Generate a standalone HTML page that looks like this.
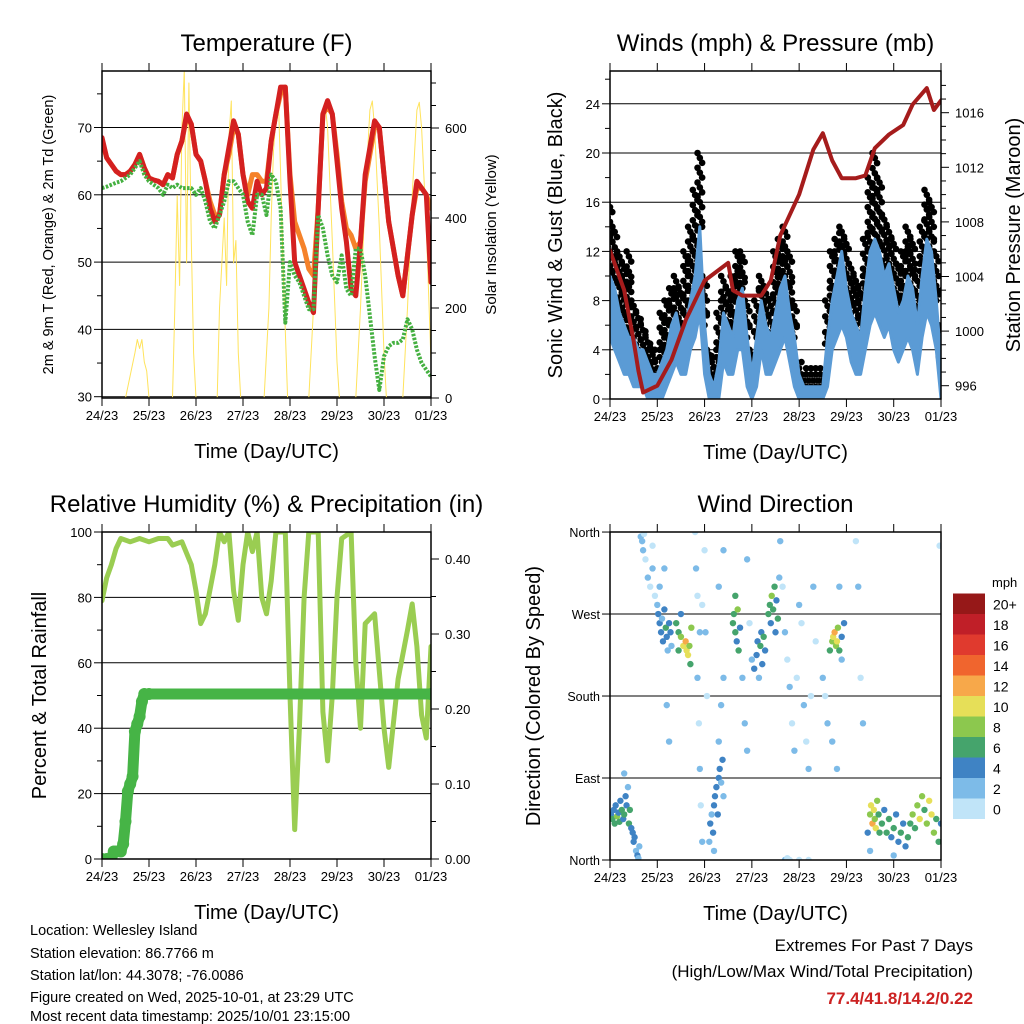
<!DOCTYPE html>
<html><head><meta charset="utf-8">
<style>
body{margin:0;background:#fff;}
svg{display:block;font-family:"Liberation Sans",sans-serif;}
</style></head>
<body>
<svg id="chart" width="1024" height="1024" viewBox="0 0 1024 1024" xmlns="http://www.w3.org/2000/svg">
<rect width="1024" height="1024" fill="#fff"/>
<g id="g"></g>
<g font-size="14.5" fill="#000">
<text x="30" y="935">Location: Wellesley Island</text>
<text x="30" y="958">Station elevation: 86.7766 m</text>
<text x="30" y="980">Station lat/lon: 44.3078; -76.0086</text>
<text x="30" y="1002">Figure created on Wed, 2025-10-01, at 23:29 UTC</text>
<text x="30" y="1024" dy="-3">Most recent data timestamp: 2025/10/01 23:15:00</text>
</g>
<g text-anchor="end" font-size="17">
<text x="973" y="951">Extremes For Past 7 Days</text>
<text x="973" y="977">(High/Low/Max Wind/Total Precipitation)</text>
<text x="973" y="1004" fill="#cc2222" font-weight="bold">77.4/41.8/14.2/0.22</text>
</g>
</svg>
<script>
// ---------- data ----------
const dayLabels=["24/23","25/23","26/23","27/23","28/23","29/23","30/23","01/23"];
const temp2m=[68.5,65.5,64.5,63.5,63,63,63.5,64.5,66,64,62.5,62.2,62,61.5,63,62.5,66,68,72,70.5,66,65,62,58,56,57,63,67,71,69,63,59,58,62,60,61,68,72,76,76,62,50,48,46,44,42.5,58,72,74,72,65,58,53,46,45,53,63,67,71,70,63,56,52,48,45,51,57,62,61,60,47];
const temp9m=[68,65.5,64.5,63.5,63,63,63.5,64.5,66,64,62.5,62.2,62,61.5,63,62.5,66,68,71.5,70.5,66,65,62,59,57,57,63,66,70,69,63,60,63,63,62,62,68,72,75,76,63,56,54,52,49,48,58,72,73,72,66,59,55,54,52,53,62,66,70,70,63,56,52,48,45,51,57,61,61,60,58];
const dewpoint=[61,61.2,61.5,61.8,62,62.5,63,64,65,63,62,61.5,61,60,61.5,61,61.5,61,61,61,60,61,59,56,55,57,59,62,62,61,60,56,54,60,60,57,63,62,58,41,50,48,47,45,43,43,57,55,51,48,47,51,46,45,52,52,48,42,36,31,36,37.5,38,38,38.5,41.5,40,37,35,34,33];
const solarDays=[0,0.5,0.6,0.7,0.75,0.8,0.85,0.9,0.95,1.0,1.5,1.55,1.6,1.65,1.7,1.75,1.8,1.85,1.9,1.95,2.0,2.45,2.5,2.6,2.65,2.7,2.75,2.8,2.85,2.9,2.95,3.45,3.55,3.6,3.65,3.7,3.75,3.8,3.85,3.95,4.4,4.5,4.6,4.7,4.75,4.8,4.9,5.0,5.05,5.4,5.5,5.6,5.7,5.75,5.8,5.9,6.0,6.05,6.4,6.5,6.6,6.7,6.75,6.8,6.9,7.0];
const solarVals=[0,0,50,100,130,110,130,80,60,0,0,200,450,250,600,730,300,700,350,100,0,0,200,400,250,580,660,300,350,100,0,0,200,400,550,620,670,500,300,0,0,200,450,620,650,600,350,80,0,0,200,450,640,660,600,380,100,0,0,200,450,640,657,600,380,80];
const windHi=[10,9,7,6,5,5,4,4,3,2,2,3,4,6,7,5,6,8,10,14,6,2,1,3,7,6,5,8,9,5,2,5,8,6,5,7,9,10,7,5,2,1,1,1,1,1,5,8,10,12,9,7,6,5,9,12,13,12,10,11,9,7,8,10,9,6,10,13,12,8,3];
const windLo=[5,4,3,2,2,1,1,1,0,0,0,0,1,2,3,2,2,4,5,7,2,0,0,0,3,2,2,4,4,1,0,1,4,2,2,3,4,5,3,1,0,0,0,0,0,0,1,4,5,6,5,3,2,2,4,6,7,6,5,6,4,3,4,5,4,2,5,7,6,4,0];
const gustHi=[16,14,12,11,12,8,7,6,5,4,3,7,8,9,10,9,12,14,17,20,10,4,3,7,10,9,10,12,12,8,4,8,10,9,8,12,13,14,12,8,3,2,2,2,2,2,8,12,13,14,13,11,10,9,13,18,20,18,15,14,13,11,12,14,13,10,14,17,16,12,6];
const pressDays=[0,0.3,0.5,0.6,0.7,1.0,1.3,1.6,2.0,2.5,2.6,2.8,3.2,3.4,3.6,4.0,4.3,4.5,4.7,4.9,5.2,5.4,5.6,5.9,6.2,6.4,6.7,6.85,7.0];
const pressVals=[1005.9,1003,999.3,997.1,995.5,996,997.9,1000.8,1003.7,1005,1003,1002.6,1002.6,1003.7,1007,1010,1013.3,1014.5,1012.5,1011.2,1011.2,1011.4,1013.4,1014.4,1015.1,1016.6,1017.8,1016.2,1016.9];
const rhDays=[0,0.1,0.2,0.3,0.4,0.6,0.8,1.0,1.2,1.4,1.5,1.7,1.9,2.0,2.1,2.2,2.4,2.5,2.6,2.7,2.8,2.9,3.0,3.1,3.2,3.3,3.4,3.5,3.6,3.7,3.8,3.9,4.0,4.1,4.2,4.3,4.4,4.6,4.7,4.8,4.9,5.0,5.1,5.3,5.4,5.5,5.6,5.8,6.0,6.1,6.3,6.5,6.6,6.7,6.8,6.9,7.0];
const rhVals=[79,86,90,95,98,97,98,97,98,98,96,97,90,82,72,75,90,100,97,100,82,73,90,100,94,100,80,75,85,100,100,100,50,9,40,80,100,100,45,30,50,80,98,100,60,40,72,75,40,28,55,70,78,65,44,37,65];
const rainDays=[0,0.1,0.2,0.25,0.3,0.4,0.45,0.5,0.55,0.6,0.65,0.7,0.75,0.8,0.85,0.9,1.0,2,3,4,5,6,7];
const rainVals=[0,0,0,0.01,0.01,0.01,0.02,0.05,0.09,0.1,0.11,0.17,0.18,0.19,0.21,0.22,0.22,0.22,0.22,0.22,0.22,0.22,0.22];
const dirDays=[0.02,0.05,0.08,0.1,0.12,0.15,0.18,0.2,0.22,0.25,0.28,0.3,0.33,0.35,0.38,0.4,0.42,0.45,0.48,0.5,0.52,0.55,0.58,0.6,0.62,0.3,0.65,0.68,0.7,0.72,0.75,0.8,0.85,0.9,0.95,0.9,1.0,1.02,1.05,1.08,1.1,1.12,1.15,1.18,1.2,1.22,1.25,1.28,1.3,1.05,1.15,1.2,1.25,1.4,1.45,1.5,1.55,1.6,1.62,1.65,1.68,1.7,1.72,1.5,1.45,1.8,1.82,1.85,1.85,1.88,1.9,1.92,1.95,2.0,2.02,1.9,1.95,2.05,2.1,2.12,2.15,2.18,2.2,2.22,2.25,2.28,2.3,2.32,2.35,2.38,2.4,2.2,2.3,2.35,2.4,2.4,2.3,2.6,2.62,2.65,2.68,2.7,2.72,2.75,2.65,2.8,2.85,2.9,2.9,2.95,3.0,3.05,3.1,3.12,3.15,3.18,3.2,3.22,3.25,3.28,3.35,3.38,3.4,3.42,3.45,3.48,3.5,3.52,3.55,3.58,3.6,3.65,3.7,3.75,3.8,3.85,3.9,3.95,4.0,4.05,4.1,4.15,4.2,4.25,4.3,4.35,3.7,3.75,3.8,4.0,4.2,4.5,4.55,4.6,4.65,4.7,4.72,4.75,4.78,4.8,4.82,4.85,4.9,4.95,4.9,4.7,4.8,4.85,5.2,5.25,5.3,5.35,5.45,5.5,5.52,5.55,5.58,5.6,5.62,5.65,5.68,5.7,5.75,5.8,5.85,5.9,5.95,6.0,6.05,6.1,6.15,6.2,6.25,6.3,6.35,6.4,6.45,6.5,6.55,6.6,6.65,6.7,6.75,6.8,6.85,6.9,6.95,7.0,5.5,6.0,6.97];
const dirDeg=[50,45,55,40,60,48,52,42,65,55,45,50,70,60,80,40,55,35,30,20,25,10,5,2,15,95,355,350,340,358,330,310,300,320,290,345,280,270,260,250,265,240,275,255,245,230,260,250,235,300,320,170,130,260,250,245,235,240,230,225,235,215,255,270,230,360,320,290,200,150,100,60,20,340,250,250,280,180,20,40,50,30,60,70,80,50,90,100,85,110,70,10,130,170,200,340,300,260,270,250,240,275,230,255,290,200,150,120,330,260,220,210,225,240,200,235,250,215,245,230,270,280,260,290,275,300,250,285,265,310,350,300,250,220,190,150,120,200,280,260,170,130,100,180,300,240,0,2,0,0,0,200,180,150,230,240,245,250,235,240,255,230,245,260,220,130,100,300,350,300,200,150,30,50,60,40,55,45,35,65,50,30,40,55,30,45,25,35,50,20,30,40,15,25,40,50,35,60,45,70,55,40,65,50,30,45,20,40,10,5,345];
const dirSpd=[5,6,4,7,5,8,4,6,5,7,4,6,5,4,3,7,6,5,4,5,4,3,4,3,2,3,2,3,2,1,1,2,1,2,1,1,3,4,5,4,3,5,4,6,4,3,5,4,3,2,2,2,2,6,7,8,10,12,11,10,8,6,9,5,6,1,2,1,2,1,2,1,2,1,2,2,1,1,3,4,3,4,5,4,5,4,4,5,3,4,3,3,2,2,2,2,2,6,7,6,5,8,6,4,7,2,2,2,2,1,3,4,5,4,3,6,5,4,6,5,6,7,5,8,6,7,5,4,6,3,2,1,2,1,2,1,2,1,2,1,2,1,2,1,2,1,3,1,1,1,1,2,1,2,6,8,10,12,9,11,8,6,5,4,3,2,2,2,1,2,1,2,4,8,10,12,11,9,10,8,7,6,7,5,6,7,5,6,4,5,6,4,5,6,7,8,6,9,10,8,7,9,11,10,8,7,6,4,3,3,1];
const speedColors=["#c0e4f8","#7dbbe8","#3f83c4","#45a46c","#8cc84e","#e6df58","#f7a84a","#f0652e","#e03a2e","#c01f28","#961818"];
const speedLabels=["0","2","4","6","8","10","12","14","16","18","20+"];

// ---------- helpers ----------
const NS="http://www.w3.org/2000/svg";
const root=document.getElementById('g');
function mk(tag,attrs,parent,txt){const e=document.createElementNS(NS,tag);for(const k in attrs)e.setAttribute(k,attrs[k]);if(txt!==undefined)e.textContent=txt;(parent||root).appendChild(e);return e;}
function grp(name){const e=mk('g',{});


return e;}

function panel(o){
  const pg=grp(o.name);
  const xs=d=>o.x0+(o.x1-o.x0)*d/7;
  o.grid.forEach(v=>{const y=o.yL(v);const l=mk('line',{x1:o.x0,x2:o.x1,y1:y,y2:y,stroke:'#000','stroke-width':1},pg);
    
    });
  const f=mk('rect',{x:o.x0,y:o.y0,width:o.x1-o.x0,height:o.y1-o.y0,fill:'none',stroke:'#000','stroke-width':1.5},pg);
  
  
  const xg=grp('x-axis');pg.appendChild(xg);
  for(let i=0;i<8;i++){const x=xs(i);
    mk('line',{x1:x,x2:x,y1:o.y1,y2:o.y1+8,stroke:'#000'},xg);
    mk('line',{x1:x,x2:x,y1:o.y0,y2:o.y0-8,stroke:'#000'},xg);
    const t=mk('text',{x:x,y:o.y1+22,'text-anchor':'middle','font-size':13},xg,dayLabels[i]);
    
    }
  const xt=mk('text',{x:(o.x0+o.x1)/2,y:o.y1+60,'text-anchor':'middle','font-size':20},pg,'Time (Day/UTC)');
  
  
  const tt=mk('text',{x:(o.x0+o.x1)/2,y:o.y0-20,'text-anchor':'middle','font-size':24},pg,o.title);
  
  
  const lg=grp('left-y-axis');pg.appendChild(lg);
  o.lTicks.forEach((v,i)=>{const y=o.yL(v);mk('line',{x1:o.x0-8,x2:o.x0,y1:y,y2:y,stroke:'#000'},lg);
    const t=mk('text',{x:o.x0-10,y:y+5,'text-anchor':'end','font-size':o.lfs||13},lg,o.lLab[i]);
    
    });
  (o.lMinor||[]).forEach(v=>{const y=o.yL(v);mk('line',{x1:o.x0-5,x2:o.x0,y1:y,y2:y,stroke:'#000'},lg);});
  if(o.rTicks){const rg=grp('right-y-axis');pg.appendChild(rg);
    o.rTicks.forEach((v,i)=>{const y=o.yR(v);mk('line',{x1:o.x1,x2:o.x1+8,y1:y,y2:y,stroke:'#000'},rg);
      const t=mk('text',{x:o.x1+14,y:y+5,'font-size':13},rg,o.rLab[i]);
      
      });
    (o.rMinor||[]).forEach(v=>{const y=o.yR(v);mk('line',{x1:o.x1,x2:o.x1+5,y1:y,y2:y,stroke:'#000'},rg);});}
  const lt=mk('text',{transform:`translate(${o.lTx},${(o.y0+o.y1)/2}) rotate(-90)`,'text-anchor':'middle','font-size':o.ltfs},pg,o.lTitle);
  
  
  if(o.rTitle){const rt=mk('text',{transform:`translate(${o.rTx},${(o.y0+o.y1)/2}) rotate(-90)`,'text-anchor':'middle','font-size':o.rtfs},pg,o.rTitle);
    
    }
  const clip=mk('clipPath',{id:o.name+'-clip'},pg);mk('rect',{x:o.x0,y:o.y0,width:o.x1-o.x0,height:o.y1-o.y0},clip);
  const dg=mk('g',{'clip-path':`url(#${o.name}-clip)`},pg);
  
  
  pg.insertBefore(dg,f);
  return {xs,dg};
}
function line(parent,xs,ys,stroke,w,name,extra){
  const pts=xs.map((x,i)=>x.toFixed(1)+','+ys[i].toFixed(1)).join(' ');
  const p=mk('polyline',Object.assign({points:pts,fill:'none',stroke:stroke,'stroke-width':w,'stroke-linejoin':'round','stroke-linecap':'round'},extra||{}),parent);
  
  
  return p;
}
const idxDays=arr=>arr.map((_,i)=>i*0.1);

// ---------- temperature ----------
{
 const yT=v=>396.7-(v-30)*6.73, yS=v=>398-v*0.45;
 const P=panel({name:'temperature-panel',title:'Temperature (F)',x0:102,x1:431,y0:71,y1:398,yL:yT,yR:yS,
  grid:[30,40,50,60,70],lTicks:[30,40,50,60,70],lLab:['30','40','50','60','70'],lMinor:[35,45,55,65,75],
  rTicks:[0,200,400,600],rLab:['0','200','400','600'],rMinor:[50,100,150,250,300,350,450,500,550,650,700],
  lTitle:'2m & 9m T (Red, Orange) & 2m Td (Green)',lTx:53,ltfs:14.5,rTitle:'Solar Insolation (Yellow)',rTx:496,rtfs:15});
 line(P.dg,solarDays.map(P.xs),solarVals.map(yS),'#ffe35c',1,'solar-insolation-line');
 line(P.dg,idxDays(temp9m).map(P.xs),temp9m.map(yT),'#f5822a',5,'temp-9m-line');
 line(P.dg,idxDays(temp2m).map(P.xs),temp2m.map(yT),'#d42020',5,'temp-2m-line');
 line(P.dg,idxDays(dewpoint).map(P.xs),dewpoint.map(yT),'#44b040',4,'dewpoint-line',{'stroke-dasharray':'2.5 1.5','stroke-linecap':'butt'});
}
// ---------- winds ----------
{
 const yW=v=>399-v*12.3, yP=p=>112.7-(p-1016)*13.65;
 const P=panel({name:'winds-panel',title:'Winds (mph) & Pressure (mb)',x0:610,x1:941,y0:71,y1:399,yL:yW,yR:yP,
  grid:[0,4,8,12,16,20,24],lTicks:[0,4,8,12,16,20,24],lLab:['0','4','8','12','16','20','24'],lMinor:[2,6,10,14,18,22,26],
  rTicks:[996,1000,1004,1008,1012,1016],rLab:['996','1000','1004','1008','1012','1016'],
  rMinor:[997,998,999,1001,1002,1003,1005,1006,1007,1009,1010,1011,1013,1014,1015,1017,1018],
  lTitle:'Sonic Wind & Gust (Blue, Black)',lTx:562,ltfs:20,rTitle:'Station Pressure (Maroon)',rTx:1020,rtfs:20});
 const gg=grp('gust-points');P.dg.appendChild(gg);
 gustHi.forEach((g,i)=>{const x=P.xs(i*0.1);const ylo=yW(windHi[i]),yhi=yW(g);
   const span=ylo-yhi;const n=Math.max(1,Math.round(span/5));
   for(let k=0;k<=n;k++){const y=yhi+span*k/n;const off=(k%3-1)*2.3;
     mk('circle',{cx:x+off,cy:y,r:3.3,fill:'#000'},gg);}
   const y2=yW((g+windHi[(i+1)%gustHi.length]+2)/2);
   mk('circle',{cx:x+2.3,cy:Math.min(y2,ylo),r:3.3,fill:'#000'},gg);});
 // blue sonic wind band (filled between low and high)
 const hiPts=windHi.map((w,i)=>P.xs(i*0.1).toFixed(1)+','+yW(w).toFixed(1));
 const loPts=windLo.map((w,i)=>P.xs(i*0.1).toFixed(1)+','+yW(w).toFixed(1)).reverse();
 const band=mk('polygon',{points:hiPts.concat(loPts).join(' '),fill:'#5b9bd5',stroke:'#5b9bd5','stroke-width':3,'stroke-linejoin':'round'},P.dg);
 
 
 line(P.dg,pressDays.map(P.xs),pressVals.map(yP),'#a51c1c',4,'pressure-line');
}
// ---------- RH ----------
{
 const yH=v=>859-v*3.27, yR=r=>859-r*750;
 const P=panel({name:'humidity-panel',title:'Relative Humidity (%) & Precipitation (in)',x0:102,x1:431,y0:532,y1:859,yL:yH,yR:yR,
  grid:[0,20,40,60,80,100],lTicks:[0,20,40,60,80,100],lLab:['0','20','40','60','80','100'],lMinor:[10,30,50,70,90],
  rTicks:[0,0.1,0.2,0.3,0.4],rLab:['0.00','0.10','0.20','0.30','0.40'],rMinor:[0.05,0.15,0.25,0.35],
  lTitle:'Percent & Total Rainfall',lTx:46,ltfs:20});
 line(P.dg,rhDays.map(P.xs),rhVals.map(yH),'#9acd52',5,'humidity-line');
 line(P.dg,rainDays.map(P.xs),rainVals.map(yR),'#46b446',11,'rainfall-line');
 const rg=grp('rainfall-points');P.dg.appendChild(rg);
 rainDays.forEach((d,i)=>{if(d<=1.0)mk('circle',{cx:P.xs(d),cy:yR(rainVals[i]),r:6,fill:'#46b446'},rg);});
 mk('circle',{cx:P.xs(7),cy:yR(rainVals[rainVals.length-1]),r:6,fill:'#46b446'},rg);
}
// ---------- direction ----------
{
 const yD=d=>860-d*0.911;
 const P=panel({name:'direction-panel',title:'Wind Direction',x0:610,x1:941,y0:532,y1:860,yL:yD,
  grid:[90,180,270],lTicks:[0,90,180,270,360],lLab:['North','East','South','West','North'],lfs:12.5,
  lTitle:'Direction (Colored By Speed)',lTx:540,ltfs:20});
 const sg=grp('direction-points');P.dg.appendChild(sg);
 dirDays.forEach((d,i)=>{const c=speedColors[Math.min(10,Math.floor(dirSpd[i]/2))];
   const pt=mk('circle',{cx:P.xs(d),cy:yD(dirDeg[i]),r:3.2,fill:c},sg);
   
   });
 const lg=grp('speed-colorbar');
 mk('text',{x:992,y:587,'font-size':13},lg,'mph');
 speedLabels.forEach((l,i)=>{const y=798.5-i*20.5;
   const r=mk('rect',{x:953,y:y,width:32,height:20.5,fill:speedColors[i]},lg);
   
   
   const t=mk('text',{x:993,y:y+16,'font-size':14},lg,l);
   
   });
}
</script>
</body></html>
